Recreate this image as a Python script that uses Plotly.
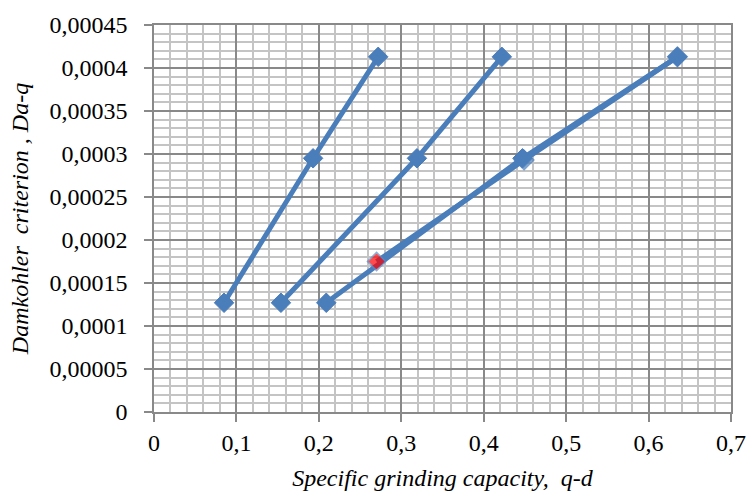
import plotly.graph_objects as go

# Data
y_vals = [0.000127, 0.000295, 0.000413]
s1_x = [0.085, 0.193, 0.272]
s2_x = [0.154, 0.319, 0.422]
s3_x = [0.209, 0.447, 0.635]
s4_x = [0.270, 0.449, 0.635]
s4_y = [0.000175, 0.000293, 0.000413]

x_ticks = [0, 0.1, 0.2, 0.3, 0.4, 0.5, 0.6, 0.7]
x_ticktext = ["0", "0,1", "0,2", "0,3", "0,4", "0,5", "0,6", "0,7"]
y_ticks = [0, 0.00005, 0.0001, 0.00015, 0.0002, 0.00025, 0.0003, 0.00035, 0.0004, 0.00045]
y_ticktext = ["0", "0,00005", "0,0001", "0,00015", "0,0002", "0,00025",
              "0,0003", "0,00035", "0,0004", "0,00045"]

blue = "#4a7ebb"
line_w = 5
msize = 15

fig = go.Figure()
for xs, ys in [(s1_x, y_vals), (s2_x, y_vals), (s3_x, y_vals)]:
    fig.add_trace(go.Scatter(
        x=xs, y=ys, mode="lines+markers",
        line=dict(color=blue, width=line_w),
        marker=dict(symbol="diamond", size=msize, color=blue,
                    line=dict(color=blue, width=1)),
        showlegend=False, hoverinfo="skip"))

fig.add_trace(go.Scatter(
    x=s4_x, y=s4_y, mode="lines+markers",
    line=dict(color=blue, width=line_w),
    marker=dict(symbol="diamond", size=[14, msize, msize],
                color=["#ff0000", blue, blue],
                line=dict(color=["#5b8cc8", blue, blue], width=1.5)),
    showlegend=False, hoverinfo="skip"))

font_family = "Times New Roman, Liberation Serif, serif"
fsize = 24
major_c = "#898989"
minor_c = "#c4c4c4"

fig.update_layout(
    width=747, height=500,
    margin=dict(l=154, r=16, t=22, b=88),
    paper_bgcolor="white", plot_bgcolor="white",
    font=dict(family=font_family, size=fsize, color="black"),
    xaxis=dict(
        range=[0, 0.7], tickvals=x_ticks, ticktext=x_ticktext,
        automargin=False, ticklabeloverflow="allow",
        showgrid=True, gridcolor=major_c, gridwidth=1.5,
        minor=dict(dtick=0.02, showgrid=True, gridcolor=minor_c, gridwidth=2,
                   ticks=""),
        ticks="outside", ticklen=8, tickcolor=major_c, tickwidth=1.5,
        showline=True, linecolor=major_c, linewidth=1.5, mirror=True,
        zeroline=False,
        tickfont=dict(family=font_family, size=fsize),
        title=dict(text="<i>Specific grinding capacity,\u00a0 q-d</i>",
                   font=dict(family=font_family, size=fsize)),
    ),
    yaxis=dict(
        range=[0, 0.00045], tickvals=y_ticks, ticktext=y_ticktext,
        showgrid=True, gridcolor=major_c, gridwidth=1.5,
        minor=dict(dtick=0.00001, showgrid=True, gridcolor=minor_c, gridwidth=2,
                   ticks=""),
        ticks="outside", ticklen=8, tickcolor=major_c, tickwidth=1.5,
        ticklabelstandoff=12,
        showline=True, linecolor=major_c, linewidth=1.5, mirror=True,
        zeroline=False,
        tickfont=dict(family=font_family, size=fsize),
        title=dict(text="<i>Damkohler\u00a0 criterion , Da-q</i>",
                   font=dict(family=font_family, size=fsize), standoff=14),
    ),
)

fig.write_html("out.html")
